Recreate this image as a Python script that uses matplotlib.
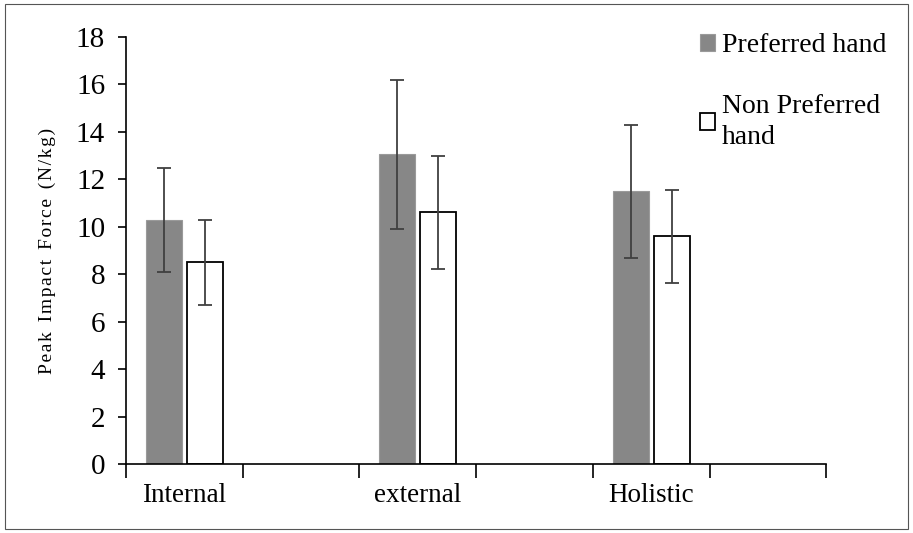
import matplotlib.pyplot as plt
import numpy as np
from matplotlib.patches import Rectangle

categories = ["Internal", "external", "Holistic"]
preferred = [10.28, 13.05, 11.5]
preferred_err = [2.18, 3.15, 2.8]
non_preferred = [8.5, 10.62, 9.6]
non_preferred_err = [1.8, 2.38, 1.95]

plt.rcParams['font.family'] = ['Liberation Serif', 'DejaVu Serif']

fig = plt.figure(figsize=(9.13, 5.33), dpi=100)
ax = fig.add_axes((0.138, 0.1295, 0.767, 0.801))

# categories sit on every other slot, the slots in between are empty
x = np.arange(len(categories)) * 2
w = 0.31
ax.bar(x - 0.175, preferred, w, color='#878787', edgecolor='#9a9a9a', linewidth=0.8,
       label='Preferred hand', zorder=2)
ax.bar(x + 0.175, non_preferred, w, color='white', edgecolor='black', linewidth=1.3,
       label='Non Preferred\nhand', zorder=2)
ax.errorbar(x - 0.175, preferred, yerr=preferred_err, fmt='none', ecolor='#404040',
            elinewidth=1.3, capsize=5, capthick=1.3, zorder=3)
ax.errorbar(x + 0.175, non_preferred, yerr=non_preferred_err, fmt='none', ecolor='#404040',
            elinewidth=1.3, capsize=5, capthick=1.3, zorder=3)

ax.set_xlim(-0.5, 5.5)
ax.set_ylim(0, 18)
ax.set_yticks(np.arange(0, 19, 2))
ax.tick_params(axis='y', labelsize=21, length=6, width=1.2, direction='out', pad=9)
ax.set_xticks(np.arange(-0.5, 6, 1))
ax.set_xticklabels([])
ax.tick_params(axis='x', length=10, width=1.2, direction='out')
ax.set_xticks(x, minor=True)
ax.set_xticklabels(categories, minor=True, fontsize=19.5)
ax.tick_params(axis='x', which='minor', length=0, pad=14)

for s in ['top', 'right']:
    ax.spines[s].set_visible(False)
for s in ['left', 'bottom']:
    ax.spines[s].set_linewidth(1.2)

ax.set_ylabel('P e a k   I m p a c t   F o r c e   ( N / k g )'.replace('   ', '\u2002').replace(' ', '\u200a'),
              fontsize=14, labelpad=14)

leg = ax.legend(loc='upper left', bbox_to_anchor=(700 / 913, 1 - 33 / 533), bbox_transform=fig.transFigure,
                frameon=False, fontsize=20, handlelength=0.55, handleheight=0.55,
                handletextpad=0.25, labelspacing=1.3, borderpad=0, borderaxespad=0)
leg.get_texts()[1].set_linespacing(1.3)

fig.patches.append(Rectangle((0.006, 0.008), 0.988, 0.984, transform=fig.transFigure,
                             fill=False, edgecolor='#555555', linewidth=0.8))

fig.savefig('out.png', dpi=100)
